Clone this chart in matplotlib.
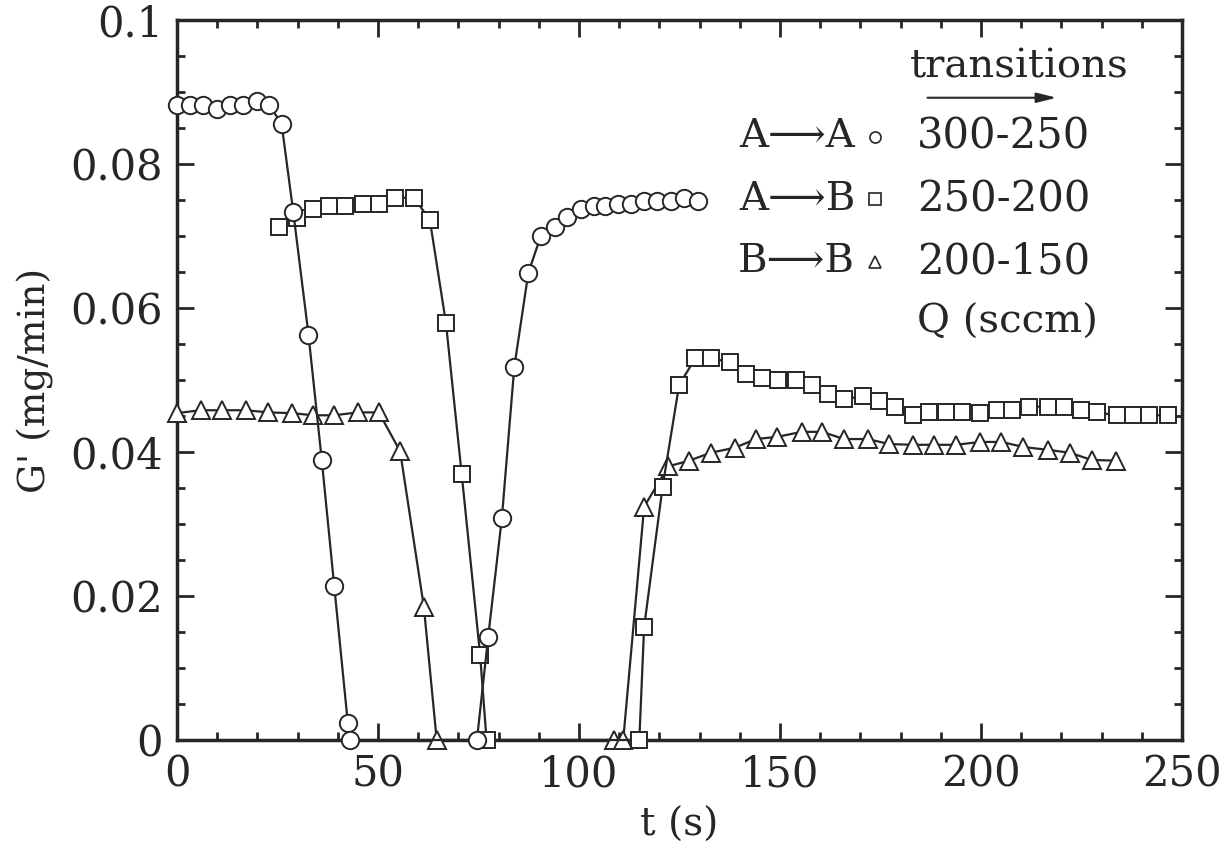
import matplotlib
matplotlib.use("Agg")
import matplotlib.pyplot as plt
from matplotlib.ticker import MultipleLocator

# A->A (circles), 300-250 sccm
aa_t = [0, 3.2, 6.5, 9.9, 13.2, 16.5, 20.0, 22.9, 26.0, 28.9, 32.7, 36.0, 39.1, 42.5, 43.0,
        74.6, 77.4, 80.8, 83.9, 87.4, 90.5, 94.0, 97.1, 100.4, 103.7, 106.5, 109.6, 112.9,
        116.2, 119.5, 122.8, 126.1, 129.5]
aa_g = [0.0882, 0.0882, 0.0882, 0.0877, 0.0882, 0.0882, 0.0887, 0.0882, 0.0856, 0.0734,
        0.0563, 0.0389, 0.0214, 0.0023, 0.0, 0.0, 0.0143, 0.0308, 0.0518, 0.0649, 0.0700,
        0.0712, 0.0727, 0.0738, 0.0742, 0.0742, 0.0745, 0.0745, 0.0749, 0.0749, 0.0749,
        0.0753, 0.0748]

# A->B (squares), 250-200 sccm
ab_t = [25.4, 29.9, 33.9, 37.9, 41.9, 46.3, 50.3, 54.3, 59.0, 62.9, 66.9, 70.8, 75.4, 77.0,
        115.0, 116.2, 120.8, 124.9, 128.9, 132.8, 137.6, 141.5, 145.5, 149.5, 153.9, 158.0,
        162.0, 166.0, 170.6, 174.6, 178.6, 183.2, 187.1, 191.2, 195.2, 199.8, 203.9, 207.8,
        211.9, 216.6, 220.6, 224.8, 228.8, 233.8, 237.7, 241.9, 246.6]
ab_g = [0.0712, 0.0725, 0.0738, 0.0742, 0.0742, 0.0745, 0.0745, 0.0753, 0.0753, 0.0722,
        0.0579, 0.0370, 0.0118, 0.0, 0.0, 0.0157, 0.0352, 0.0493, 0.0530, 0.0530, 0.0525,
        0.0508, 0.0503, 0.0500, 0.0500, 0.0493, 0.0481, 0.0473, 0.0478, 0.0471, 0.0463,
        0.0451, 0.0455, 0.0455, 0.0455, 0.0454, 0.0458, 0.0458, 0.0463, 0.0463, 0.0463,
        0.0458, 0.0455, 0.0451, 0.0451, 0.0451, 0.0451]

# B->B (triangles), 200-150 sccm
bb_t = [0, 5.9, 11.1, 17.2, 22.6, 28.6, 33.8, 39.1, 45.0, 50.2, 55.5, 61.4, 64.6, 108.7,
        111.0, 116.2, 122.2, 127.4, 132.8, 138.8, 144.0, 149.3, 155.4, 160.5, 165.9, 171.8,
        177.2, 183.2, 188.4, 193.8, 199.8, 205.1, 210.5, 216.6, 222.1, 227.5, 233.6]
bb_g = [0.0454, 0.0458, 0.0458, 0.0458, 0.0455, 0.0454, 0.0451, 0.0451, 0.0455, 0.0455,
        0.0401, 0.0185, 0.0, 0.0, 0.0, 0.0324, 0.0380, 0.0388, 0.0399, 0.0406, 0.0418,
        0.0421, 0.0428, 0.0428, 0.0418, 0.0418, 0.0411, 0.0410, 0.0410, 0.0410, 0.0414,
        0.0414, 0.0407, 0.0403, 0.0399, 0.0389, 0.0388]

x_ticks = [0, 50, 100, 150, 200, 250]
x_labels = ["0", "50", "100", "150", "200", "250"]
y_ticks = [0, 0.02, 0.04, 0.06, 0.08, 0.1]
y_labels = ["0", "0.02", "0.04", "0.06", "0.08", "0.1"]

legend_names = ["A\u27f6A", "A\u27f6B", "B\u27f6B"]
legend_q = ["300-250", "250-200", "200-150"]
legend_markers = ["o", "s", "^"]

plt.rcParams["font.family"] = ["DejaVu Serif", "DejaVu Sans"]
ink = "#262626"

fig = plt.figure(figsize=(12.32, 8.57), dpi=100)
ax = fig.add_axes([0.1437, 0.1365, 0.8157, 0.8402])

mk = dict(color=ink, lw=1.6, mfc="white", mec=ink, mew=1.4, clip_on=False)
ax.plot(bb_t, bb_g, marker="^", ms=13, **mk, zorder=3)
ax.plot(ab_t, ab_g, marker="s", ms=12, **mk, zorder=4)
ax.plot(aa_t, aa_g, marker="o", ms=12.5, **mk, zorder=5)

ax.set_xlim(0, 250)
ax.set_ylim(0, 0.1)
ax.set_xticks(x_ticks)
ax.set_xticklabels(x_labels)
ax.set_yticks(y_ticks)
ax.set_yticklabels(y_labels)
ax.xaxis.set_minor_locator(MultipleLocator(10))
ax.yaxis.set_minor_locator(MultipleLocator(0.005))
ax.tick_params(which="both", direction="in", top=True, right=True, colors=ink,
               labelsize=30, width=2)
ax.tick_params(which="major", length=12)
ax.tick_params(axis="x", which="major", pad=10)
ax.tick_params(axis="y", which="major", pad=10)
ax.tick_params(which="minor", length=6)
for s in ax.spines.values():
    s.set_linewidth(2.5)
    s.set_color(ink)

ax.set_xlabel("t (s)", fontsize=28, color=ink, labelpad=8)
ax.set_ylabel("G' (mg/min)", fontsize=27, color=ink, labelpad=12)

# legend-like annotation
ax.text(209.5, 0.0935, "transitions", fontsize=29, color=ink, ha="center", va="center")
ax.annotate("", xy=(219.5, 0.0892), xytext=(186, 0.0892),
            arrowprops=dict(arrowstyle="-|>,head_length=1.2,head_width=0.3",
                            color=ink, lw=1.5))
rows_y = [0.0838, 0.0751, 0.0664]
for name, q, m, yy in zip(legend_names, legend_q, legend_markers, rows_y):
    ax.text(168.7, yy, name, fontsize=29, color=ink, ha="right", va="center")
    ax.plot([173.6], [yy], marker=m, ms=8, mfc="white", mec=ink, mew=1.2, color=ink,
            linestyle="none")
    ax.text(184.1, yy, q, fontsize=30, color=ink, ha="left", va="center")
ax.text(184.1, 0.058, "Q (sccm)", fontsize=29, color=ink, ha="left", va="center")

fig.savefig("out.png", dpi=100)
